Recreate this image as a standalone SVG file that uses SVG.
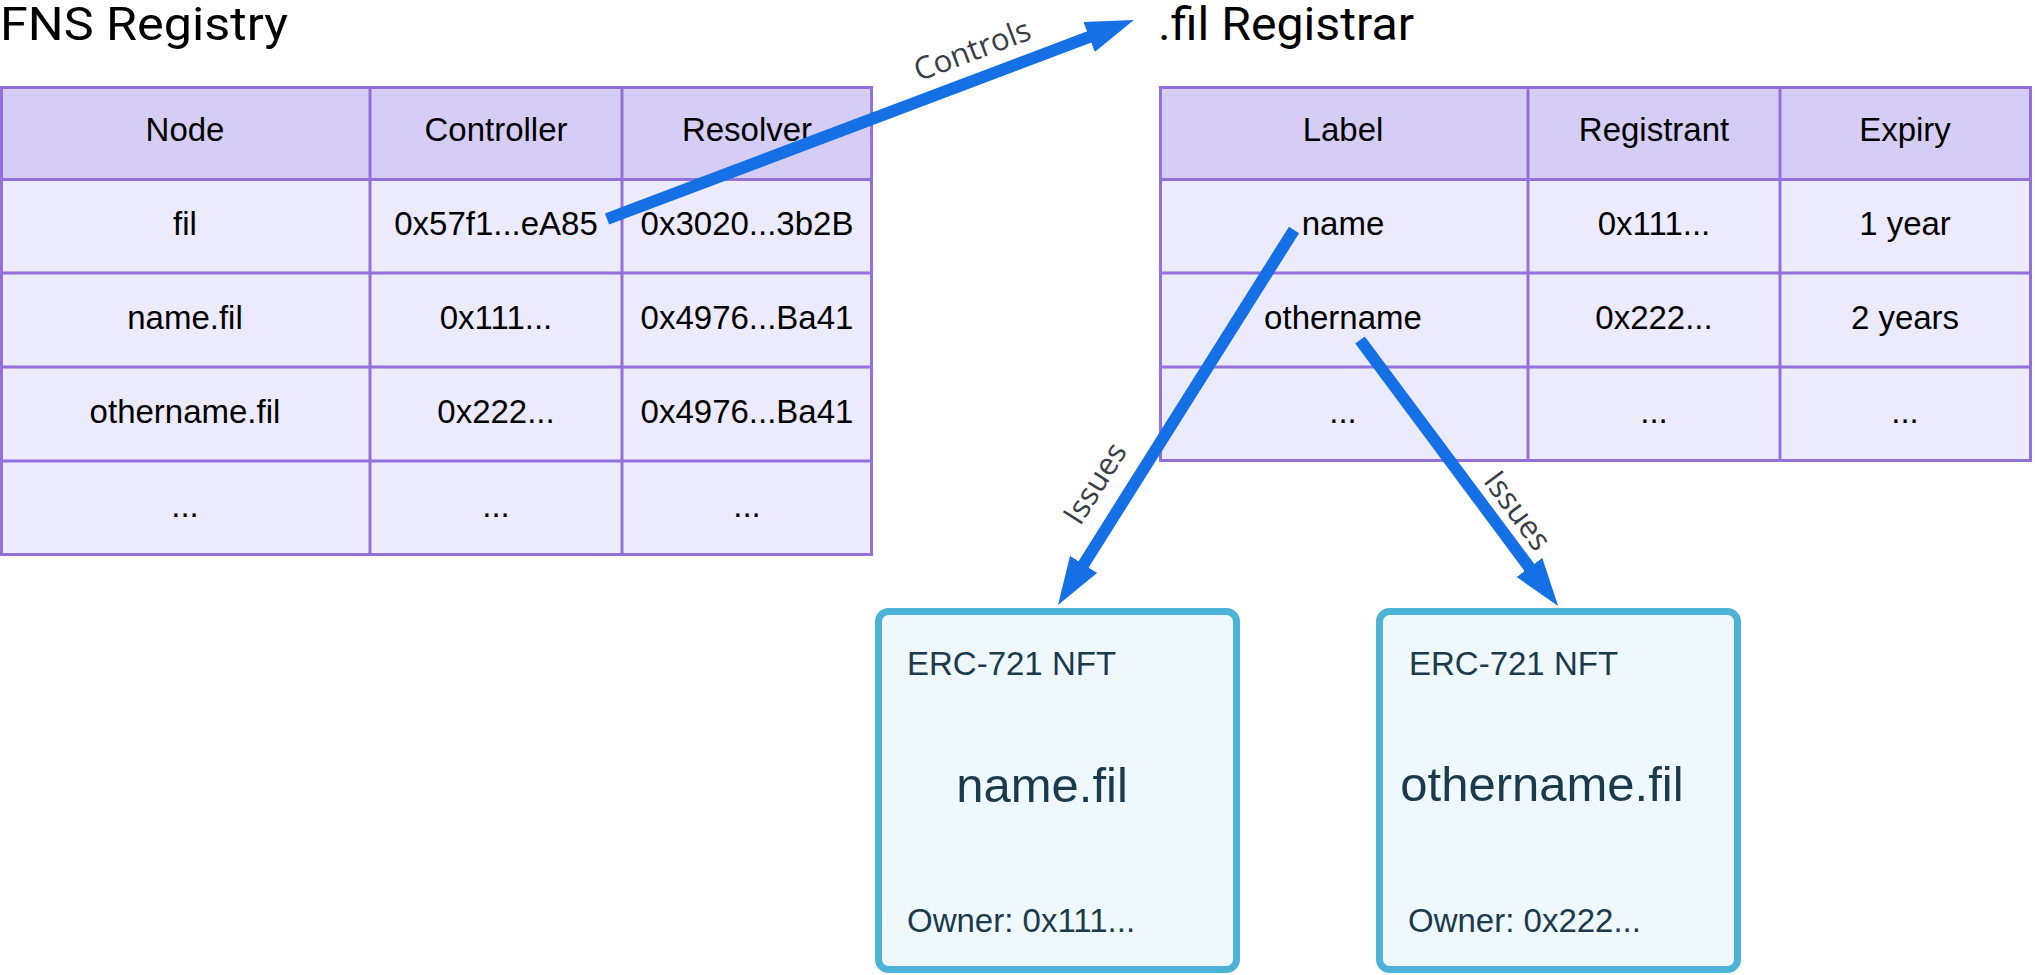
<svg xmlns="http://www.w3.org/2000/svg" width="2035" height="975" viewBox="0 0 2035 975">
<style>
  .title { font-family: Roboto, "Liberation Sans", sans-serif; font-size: 47px; fill: #000; }
  .cell { font-family: "Liberation Sans", Arial, sans-serif; font-size: 33px; fill: #000; text-anchor: middle; }
  .hdr { fill: #D5CDF5; }
  .body { fill: #ECEBFD; }
  .grid { stroke: #9370DB; stroke-width: 3; fill: none; }
  .nft { fill: #EEF8FD; stroke: #4DB3D6; stroke-width: 7; }
  .nftsmall { font-family: "Liberation Sans", Arial, sans-serif; font-size: 33px; fill: #1B3A4B; }
  .nftbig { font-family: "Liberation Sans", Arial, sans-serif; font-size: 49px; fill: #1B3A4B; }
  .conn { stroke: #1570E6; stroke-width: 12; fill: none; marker-end: url(#head); }
  .lbl { font-family: "Open Sans", "Liberation Sans", sans-serif; font-size: 31px; fill: #3A3E46; text-anchor: middle; }
</style>
<defs>
  <marker id="head" markerUnits="userSpaceOnUse" markerWidth="48" markerHeight="32" refX="18" refY="16" orient="auto" viewBox="0 0 48 32">
    <path d="M0,0 L48,16 L0,32 z" fill="#1570E6"/>
  </marker>
</defs>
<rect width="2035" height="975" fill="#fff"/>

<g id="fns-registry">
  <text class="title" x="0" y="40" textLength="288" lengthAdjust="spacingAndGlyphs">FNS Registry</text>
  <rect class="hdr" x="1.5" y="87.5" width="870" height="92"/>
  <rect class="body" x="1.5" y="179.5" width="870" height="375"/>
  <path class="grid" d="M1.5,87.5 H871.5 V554.5 H1.5 Z M1.5,179.5 H871.5 M1.5,273 H871.5 M1.5,367 H871.5 M1.5,461 H871.5 M370,87.5 V554.5 M622,87.5 V554.5"/>
  <text class="cell" x="185" y="141">Node</text>
  <text class="cell" x="496" y="141">Controller</text>
  <text class="cell" x="747" y="141">Resolver</text>
  <text class="cell" x="185" y="235">fil</text>
  <text class="cell" x="496" y="235">0x57f1...eA85</text>
  <text class="cell" x="747" y="235">0x3020...3b2B</text>
  <text class="cell" x="185" y="329">name.fil</text>
  <text class="cell" x="496" y="329">0x111...</text>
  <text class="cell" x="747" y="329">0x4976...Ba41</text>
  <text class="cell" x="185" y="423">othername.fil</text>
  <text class="cell" x="496" y="423">0x222...</text>
  <text class="cell" x="747" y="423">0x4976...Ba41</text>
  <text class="cell" x="185" y="517">...</text>
  <text class="cell" x="496" y="517">...</text>
  <text class="cell" x="747" y="517">...</text>
</g>

<g id="fil-registrar">
  <text class="title" x="1158" y="40" textLength="256" lengthAdjust="spacingAndGlyphs">.fil Registrar</text>
  <rect class="hdr" x="1160.5" y="87.5" width="870" height="92"/>
  <rect class="body" x="1160.5" y="179.5" width="870" height="281"/>
  <path class="grid" d="M1160.5,87.5 H2030.5 V460.5 H1160.5 Z M1160.5,179.5 H2030.5 M1160.5,273 H2030.5 M1160.5,367 H2030.5 M1528,87.5 V460.5 M1780,87.5 V460.5"/>
  <text class="cell" x="1343" y="141">Label</text>
  <text class="cell" x="1654" y="141">Registrant</text>
  <text class="cell" x="1905" y="141">Expiry</text>
  <text class="cell" x="1343" y="235">name</text>
  <text class="cell" x="1654" y="235">0x111...</text>
  <text class="cell" x="1905" y="235">1 year</text>
  <text class="cell" x="1343" y="329">othername</text>
  <text class="cell" x="1654" y="329">0x222...</text>
  <text class="cell" x="1905" y="329">2 years</text>
  <text class="cell" x="1343" y="423">...</text>
  <text class="cell" x="1654" y="423">...</text>
  <text class="cell" x="1905" y="423">...</text>
</g>

<g id="nft-name">
  <rect class="nft" x="878.5" y="611.5" width="358" height="358" rx="10"/>
  <text class="nftsmall" x="907" y="675">ERC-721 NFT</text>
  <text class="nftbig" x="1042" y="802" text-anchor="middle">name.fil</text>
  <text class="nftsmall" x="907" y="932">Owner: 0x111...</text>
</g>

<g id="nft-othername">
  <rect class="nft" x="1379.5" y="611.5" width="358" height="358" rx="10"/>
  <text class="nftsmall" x="1409" y="675">ERC-721 NFT</text>
  <text class="nftbig" x="1542" y="801" text-anchor="middle">othername.fil</text>
  <text class="nftsmall" x="1408" y="932">Owner: 0x222...</text>
</g>

<g id="connectors">
  <line class="conn" x1="607" y1="219" x2="1105.9" y2="30.6"/>
  <text class="lbl" transform="translate(976,60) rotate(-20.7)">Controls</text>
  <line class="conn" x1="1294" y1="230" x2="1074" y2="579.6"/>
  <text class="lbl" transform="translate(1104,489) rotate(-57.7)">Issues</text>
  <line class="conn" x1="1360" y1="340" x2="1540.2" y2="581.9"/>
  <text class="lbl" transform="translate(1509,517) rotate(53.5)">Issues</text>
</g>
</svg>
